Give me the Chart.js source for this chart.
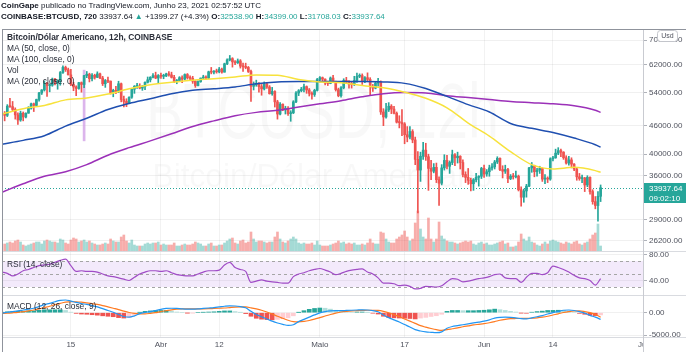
<!DOCTYPE html>
<html lang="pt">
<head>
<meta charset="utf-8">
<title>BTCUSD 12h</title>
<script src="https://cdn.jsdelivr.net/npm/chart.js@4.4.1/dist/chart.umd.min.js"></script>
<style>
  html, body { margin: 0; padding: 0; background: #fff; }
  body { width: 686px; height: 352px; position: relative; overflow: hidden;
         font-family: "Liberation Sans", Arial, sans-serif; color: #131722; }
  #chart { position: absolute; left: 0; top: 0; }
  .txt { position: absolute; white-space: nowrap; font-size: 8.4px; line-height: 10px; }
  .hdr { font-size: 8px; }
  .up { color: #26a69a; }
  .leg { color: #2a2e39; }
</style>
</head>
<body>
<canvas id="chart" width="686" height="352"></canvas>
<div class="txt hdr" style="left:1px;top:1px"><b>CoinGape</b> publicado no TradingView.com, Junho 23, 2021 02:57:52 UTC</div>
<div class="txt hdr" style="left:1px;top:12px"><b>COINBASE:BTCUSD, 720</b> 33937.64 <span class="up">▲</span> +1399.27 (+4.3%) <b>O:</b><span class="up">32538.90</span> <b>H:</b><span class="up">34399.00</span> <b>L:</b><span class="up">31708.03</span> <b>C:</b><span class="up">33937.64</span></div>
<div class="txt leg" style="left:7px;top:32px"><b>Bitcoin/Dólar Americano, 12h, COINBASE</b></div>
<div class="txt leg" style="left:7px;top:43px">MA (50, close, 0)</div>
<div class="txt leg" style="left:7px;top:54px">MA (100, close, 0)</div>
<div class="txt leg" style="left:7px;top:65px">Vol</div>
<div class="txt leg" style="left:7px;top:76px">MA (200, close, 0)</div>
<div class="txt leg" style="left:7px;top:259px">RSI (14, close)</div>
<div class="txt leg" style="left:7px;top:301px">MACD (12, 26, close, 9)</div>
<script>
// x is counted in days from 1 Jun 2021 00:00 UTC
const dateTicks = [-78, -61, -50, -31, -15, 0, 13, 30];
const dateLabels = ['15', 'Abr', '12', 'Maio', '17', 'Jun', '14', 'Jul'];
const priceTicks = [26200, 29000, 36000, 40000, 46000, 54000, 62000, 70000];
const rsiTicks = [40, 80];
const rsiLevels = [70, 50, 30];
const macdTicks = [0, -5000];

const firstCandleDay = -90.5;   // 2 Mar 2021 12:00 UTC, 12h candles
const firstIndicatorDay = -91;  // RSI / MACD read once a day

const opens = [
  48900,48400,50600,50500,49800,48500,47300,48900,48000,48900,
  50100,51200,50800,52300,54000,54800,56600,56000,56100,57800,
  56900,57300,59700,61200,60500,59000,56300,55600,55200,56800,
  56300,58800,59200,57900,58900,58300,59300,58100,56500,57400,
  57200,54100,54700,54300,56500,52300,51800,51300,52900,55000,
  55800,55800,55300,55800,56900,57600,58300,58800,58100,58800,
  58600,58700,59300,59000,58300,57100,57400,58200,57800,59100,
  58200,58000,57200,56000,57100,58100,58400,58100,59900,59800,
  60000,59900,60700,59800,62300,63500,63900,62900,62600,63200,
  61600,61400,61200,60000,55800,56200,56600,55700,55100,56500,
  55600,53800,54400,51700,48700,51100,49700,50100,48800,49000,
  51700,54000,54600,55000,55700,54800,53900,53600,54700,57700,
  58200,57800,56700,56600,58100,57200,54900,53300,55400,57400,
  57000,56400,56300,57400,58600,58800,57300,58200,57700,55800,
  55300,56700,56900,49200,48000,49700,50600,49900,48900,46800,
  46700,46400,44000,43500,44700,42900,39000,37000,39600,40800,
  39500,37300,36800,37500,35300,34700,37400,38800,37700,38400,
  39900,39300,39600,38400,36200,35700,35200,34600,35300,35700,
  35900,37300,36300,36700,37400,37600,38500,39200,37100,36800,
  37100,35500,35900,35800,35900,33600,32400,33400,34200,37400,
  37800,36700,37000,37300,35400,35500,35400,39100,39300,40200,
  40700,40400,39300,38300,38900,38100,37200,35800,35500,35600,
  34400,35700,33300,31700,31100,32538.9
];
const highs = [
  49300,51000,52600,51800,50200,49000,49400,49200,49000,50500,
  51400,51400,52400,54200,54900,57300,56900,56500,58100,58000,
  57600,60000,61700,61600,61000,60600,56900,55900,56900,57000,
  58900,60000,59500,59400,59200,59900,59500,58600,57700,58400,
  57300,55000,55800,57200,56700,53200,52500,53000,55100,56000,
  56600,56500,56000,57000,58400,58500,59400,59800,59100,59500,
  59200,59500,60000,59800,58900,57700,58500,58700,59300,59400,
  58700,58600,57300,57300,58100,58900,58700,60100,61200,60300,
  60700,61200,61000,62500,63800,64900,64200,63300,63800,63600,
  62500,62500,61500,60400,57000,57500,56800,56300,57000,56700,
  56000,55500,54600,52100,51500,51200,50600,50500,49500,52000,
  54400,54900,55500,56400,55900,55200,54300,55000,58000,58500,
  58400,57900,57200,58400,58900,57200,55300,55700,57900,58300,
  57400,57000,58600,59500,59300,59300,58500,59600,58200,56300,
  56900,58000,57300,50000,51300,51500,51000,50600,49200,48300,
  49800,46700,45800,45800,45100,43500,40500,40400,42400,42200,
  40000,38800,38200,38300,35800,38000,39900,39800,38700,40800,
  40100,40400,39700,38900,36700,37300,35600,35500,36400,36000,
  37500,37900,37100,37900,38200,38800,39500,39300,37800,37900,
  37300,36200,36400,36800,36100,34100,33700,34500,37500,38400,
  37900,37300,37700,37400,36200,35800,39300,39600,41000,41300,
  41000,40500,39700,39600,39300,38200,37400,36400,36100,35700,
  36000,35800,33600,32500,33300,34399
];
const lows = [
  47100,48100,50300,49300,47500,46300,47000,47100,47800,48900,
  49900,49300,50500,51900,53600,54500,53100,54300,55800,56200,
  55000,56100,59400,60000,59000,56000,54600,53300,55000,54200,
  55400,58200,57000,57300,57800,58200,57900,56000,55500,56800,
  53700,53000,53800,54100,51700,50400,50500,51300,52600,53900,
  55200,55100,54700,54900,56700,57000,58100,57900,56800,58000,
  57900,58500,58600,58100,56800,56500,57200,56800,57600,57800,
  57400,56600,55500,55900,56900,57900,57700,57900,59300,59300,
  59500,59600,59500,59800,62000,63200,61300,62000,62400,61000,
  60000,60800,59700,51800,54800,55800,54200,53400,54800,55200,
  53700,53400,50400,47500,48500,49500,48700,48400,47000,48800,
  51500,53300,54300,54300,53900,53200,52400,53100,54500,57000,
  57300,56200,56000,56500,57000,54500,53000,52900,55100,56600,
  55300,55300,56000,56900,58200,56300,56800,57200,53400,54400,
  55100,55800,48600,46000,47700,49300,48800,48700,46600,45500,
  43800,42100,42500,43100,42300,38000,30000,35000,39000,38800,
  33500,35300,36500,34800,31100,34400,37000,37200,36400,38000,
  37800,38300,37200,35800,34800,34500,33400,33500,34900,34200,
  35500,35700,35900,35900,37000,37200,38200,36900,35600,36400,
  34800,35300,35400,35600,33400,31000,31600,32400,34100,36600,
  35800,35900,36400,35000,34600,34800,35200,38700,39200,39900,
  39500,39000,38100,37900,37400,36900,35200,35200,34800,33300,
  34100,32900,31300,30600,28800,31708.03
];
const closes = [
  48400,50600,50500,49800,48500,47300,48900,48000,48900,50100,
  51200,50800,52300,54000,54800,56600,56000,56100,57800,56900,
  57300,59700,61200,60500,59000,56300,55600,55200,56800,56300,
  58800,59200,57900,58900,58300,59300,58100,56500,57400,57200,
  54100,54700,54300,56500,52300,51800,51300,52900,55000,55800,
  55800,55300,55800,56900,57600,58300,58800,58100,58800,58600,
  58700,59300,59000,58300,57100,57400,58200,57800,59100,58200,
  58000,57200,56000,57100,58100,58400,58100,59900,59800,60000,
  59900,60700,59800,62300,63500,63900,62900,62600,63200,61600,
  61400,61200,60000,55800,56200,56600,55700,55100,56500,55600,
  53800,54400,51700,48700,51100,49700,50100,48800,49000,51700,
  54000,54600,55000,55700,54800,53900,53600,54700,57700,58200,
  57800,56700,56600,58100,57200,54900,53300,55400,57400,57000,
  56400,56300,57400,58600,58800,57300,58200,57700,55800,55300,
  56700,56900,49200,48000,49700,50600,49900,48900,46800,46700,
  46400,44000,43500,44700,42900,39000,37000,39600,40800,39500,
  37300,36800,37500,35300,34700,37400,38800,37700,38400,39900,
  39300,39600,38400,36200,35700,35200,34600,35300,35700,35900,
  37300,36300,36700,37400,37600,38500,39200,37100,36800,37100,
  35500,35900,35800,35900,33600,32400,33400,34200,37400,37800,
  36700,37000,37300,35400,35500,35400,39100,39300,40200,40700,
  40400,39300,38300,38900,38100,37200,35800,35500,35600,34400,
  35700,33300,31700,31100,32538.9,33937.64
];
// volume per candle, thousands of BTC
const volumeK = [
  10.5,12,13.5,12,15,16.5,13.5,9,7.5,9,
  10.5,12,13.5,13.5,10.5,15,16.5,15,13.5,13.5,
  12,18,16.5,12,10.5,16.5,19.5,18,13.5,15,
  16.5,13.5,15,12,10.5,9,9,10.5,12,10.5,
  18,15,13.5,13.5,21,24,15,12,16.5,9,
  7.5,7.5,7.5,10.5,12,10.5,12,12,13.5,9,
  10.5,9,9,9,12,7.5,7.5,9,10.5,9,
  9,10.5,13.5,12,10.5,7.5,7.5,10.5,12,7.5,
  7.5,9,9,12,15,18,19.5,12,10.5,15,
  16.5,12,13.5,28.5,18,13.5,15,15,13.5,12,
  13.5,13.5,21,28.5,18,13.5,12,15,18,21,
  18,12,10.5,12,10.5,10.5,12,9,15,9,
  7.5,7.5,7.5,9,10.5,12,15,12,13.5,10.5,
  12,10.5,12,9,9,10.5,9,12,18,12,
  10.5,10.5,28.5,27,18,13.5,12,12,18,21,
  24,30,21,15,18,42,60,33,21,18,
  49.5,18,13.5,18,43.5,22.5,18,15,13.5,13.5,
  12,10.5,12,13.5,15,13.5,15,10.5,9,12,
  13.5,10.5,12,9,9,10.5,12,13.5,15,10.5,
  12,6,6,7.5,13.5,25.5,18,15,21,13.5,
  12,9,7.5,10.5,13.5,10.5,15,16.5,15,13.5,
  12,10.5,13.5,12,10.5,13.5,15,10.5,9,12,
  13.5,18,24,27,40.5,7.5
];

// long lavender print on 17 Mar
const spikeDays = [-75.5];
const spikeRanges = [[42700, 60400]];

const maDays = [-91,-87,-83,-79,-75,-71,-67,-63,-59,-55,-51,-47,-43,-39,-35,-31,-27,-23,-19,-15,-11,-7,-3,1,5,9,13,17,21,22];
const ma50 = [48700,50000,50800,52200,52700,53700,55100,56200,56900,57500,57900,58400,59000,58900,57700,57000,56800,56000,55400,54200,52600,50200,46600,43700,40500,38000,37200,37500,36900,36600];
const ma100 = [42000,42800,43800,45900,47700,49800,51300,52500,53800,54700,55100,55600,56500,57000,57100,57100,57100,57100,57000,56600,55200,53100,51000,49200,46500,45400,44500,43300,41900,41400];
const ma200 = [33200,34600,35900,36700,38000,39800,41300,42700,44200,45800,47100,48300,49100,49600,50400,51200,52000,53000,53800,54100,54000,53300,52800,52300,51800,51500,51200,50700,49600,49100];

const rsi = [
  53,51,47,50,55,57,60,63,64,65,
  68,71,73,63,54,55,54,54,53,50,
  47,46,44,42,40,45,50,53,55,55,
  54,55,52,49,48,47,47,50,53,55,
  55,56,64,68,60,57,54,37,39,41,
  39,38,37,36,36,46,50,52,55,57,
  58.5,56,53,49,51,54,56,57,58,53,
  50,44,36,36,35,32,33,31,27,28,
  31,30.5,30,32,38,43,42,38,39,41,
  43,44,46,49,50,44,43,43,37,45,
  51,51,49,52,62,60,57,53,48,44,
  43,40,33,43
];
const macdLine = [
  -100,100,250,400,600,800,1000,1400,1800,2100,
  2450,2750,2850,2600,2300,2050,1850,1600,1300,900,
  500,100,-400,-850,-1000,-700,-200,50,250,500,
  750,950,1000,950,850,800,800,850,950,1050,
  1150,1300,1450,1550,1500,1350,1100,300,-400,-900,
  -1400,-1900,-2300,-2600,-2850,-2700,-2000,-1500,-1000,-500,
  -50,250,400,450,450,500,550,600,650,600,
  450,200,-500,-1100,-1600,-2100,-2650,-3200,-3800,-4100,
  -4300,-4400,-4480,-4300,-3500,-3100,-2900,-2700,-2500,-2300,
  -2100,-1900,-1600,-1200,-1030,-1000,-1050,-1150,-1350,-1400,
  -1150,-900,-650,-300,0,300,550,600,500,250,
  -100,-600,-1000,-1500
];
const signalLine = [
  -150,-100,-20,80,250,400,600,850,1150,1450,
  1800,2100,2350,2480,2450,2350,2200,2050,1850,1600,
  1300,1000,700,350,50,-150,-250,-250,-150,0,
  250,450,650,800,850,850,850,850,870,900,
  950,1000,1050,1150,1250,1300,1300,1100,850,550,
  150,-300,-800,-1250,-1700,-2000,-2050,-1950,-1750,-1450,
  -1100,-750,-400,-100,150,300,400,450,500,550,
  550,500,300,0,-450,-900,-1400,-1900,-2400,-2900,
  -3250,-3550,-3800,-3950,-3800,-3600,-3400,-3150,-2950,-2750,
  -2600,-2450,-2250,-2000,-1700,-1500,-1350,-1300,-1280,-1280,
  -1250,-1150,-1000,-800,-520,-250,50,250,380,400,
  250,0,-350,-1000
];
const macdHist = [
  50,200,270,320,350,400,400,550,650,650,
  650,650,500,120,-150,-300,-350,-450,-550,-700,
  -800,-900,-1100,-1200,-1050,-550,50,300,400,500,
  500,500,350,150,0,-50,-50,0,80,150,
  200,300,400,400,250,50,-200,-800,-1250,-1450,
  -1550,-1600,-1500,-1350,-1150,-700,50,450,750,950,
  1050,1000,800,550,300,200,150,150,150,50,
  -100,-300,-800,-1100,-1150,-1200,-1250,-1300,-1400,-1200,
  -1050,-850,-680,-350,300,500,500,450,450,450,
  500,550,650,800,670,500,300,150,-70,-120,
  100,250,350,500,520,550,500,350,120,-150,
  -350,-600,-650,-500
];

const UP = '#26a69a', DOWN = '#ef5350';
const FONT = '"Liberation Sans", Arial, sans-serif';
const AXIS_TEXT = '#50535e';

const candleDays = opens.map((_, i) => firstCandleDay + i * 0.5);
const indicatorDays = rsi.map((_, i) => firstIndicatorDay + i);
const isUp = closes.map((c, i) => c >= opens[i]);
const candleColors = isUp.map(u => u ? UP : DOWN);
const volColors = isUp.map(u => u ? 'rgba(38,166,154,0.42)' : 'rgba(239,83,80,0.48)');
const histColors = macdHist.map((h, i) => {
  const prev = i ? macdHist[i - 1] : h;
  if (h >= 0) return h >= prev ? '#26a69a' : '#b2dfdb';
  return h < prev ? '#ef5350' : '#ffcdd2';
});

function stretchText(ctx, text, cx, baseline, size, width) {
  ctx.font = size + 'px ' + FONT;
  const w = ctx.measureText(text).width;
  ctx.save();
  ctx.translate(cx, baseline);
  ctx.scale(width / w, 1);
  ctx.textAlign = 'center';
  ctx.textBaseline = 'alphabetic';
  ctx.fillText(text, 0, 0);
  ctx.restore();
}

function hline(ctx, x1, x2, y) {
  ctx.beginPath(); ctx.moveTo(x1, y); ctx.lineTo(x2, y); ctx.stroke();
}
function vline(ctx, x, y1, y2) {
  ctx.beginPath(); ctx.moveTo(x, y1); ctx.lineTo(x, y2); ctx.stroke();
}

// watermark, RSI band, last price line, frame and badges
const decor = {
  id: 'decor',
  beforeDatasetsDraw(chart) {
    const { ctx, chartArea: a, scales } = chart;
    const cx = (a.left + a.right) / 2;
    ctx.save();
    ctx.fillStyle = 'rgba(0,0,0,0.028)';
    stretchText(ctx, 'BTCUSD, 12h', cx, 138, 77, 353);
    stretchText(ctx, 'Bitcoin/Dólar Americano', cx, 187, 33, 340);

    const r = scales.rsi;
    const yTop = r.getPixelForValue(rsiLevels[0]);
    const yBot = r.getPixelForValue(rsiLevels[rsiLevels.length - 1]);
    ctx.fillStyle = 'rgba(155,80,220,0.12)';
    ctx.fillRect(a.left, yTop, a.right - a.left, yBot - yTop);
    ctx.strokeStyle = '#a5a5a5';
    ctx.lineWidth = 1;
    ctx.setLineDash([3, 3]);
    rsiLevels.forEach(v => hline(ctx, a.left, a.right, Math.round(r.getPixelForValue(v)) + 0.5));

    const py = Math.round(scales.price.getPixelForValue(closes[closes.length - 1])) + 0.5;
    ctx.strokeStyle = UP;
    ctx.setLineDash([1, 2]);
    hline(ctx, a.left, a.right, py);
    ctx.restore();
  },
  afterDraw(chart) {
    const { ctx, chartArea: a, scales, width, height } = chart;
    ctx.save();
    ctx.fillStyle = '#fff';
    ctx.fillRect(a.right + 1, a.bottom + 1, width - a.right, height - a.bottom);

    ctx.lineWidth = 1;
    ctx.strokeStyle = '#d9dbe0';
    [scales.price.bottom, scales.rsi.bottom, a.bottom].forEach(y => hline(ctx, a.left, width, Math.round(y) + 0.5));
    ctx.strokeStyle = '#c9cbd1';
    vline(ctx, Math.round(a.right) + 0.5, a.top, height);
    ctx.strokeStyle = '#8f939c';
    hline(ctx, a.left, width, Math.round(a.top) + 0.5);
    vline(ctx, Math.round(a.left) + 0.5, a.top, height);

    // last price badge
    const last = closes[closes.length - 1];
    const py = Math.round(scales.price.getPixelForValue(last));
    ctx.fillStyle = UP;
    ctx.fillRect(a.right + 1, py - 5, width - a.right - 1, 20);
    ctx.fillStyle = '#fff';
    ctx.font = '8px ' + FONT;
    ctx.textAlign = 'left';
    ctx.textBaseline = 'middle';
    ctx.fillText(last.toFixed(2), a.right + 6, py + 0.5);
    ctx.fillText('09:02:10', a.right + 6, py + 10.5);

    // currency box
    ctx.fillStyle = '#fff';
    ctx.strokeStyle = '#c3c5cb';
    ctx.beginPath();
    ctx.roundRect(657.5, 30.5, 20, 11, 3);
    ctx.fill(); ctx.stroke();
    ctx.fillStyle = '#50535e';
    ctx.font = '7px ' + FONT;
    ctx.textAlign = 'center';
    ctx.fillText('Usd', 667.5, 36.5);
    ctx.restore();
  }
};

const barBase = { type: 'bar', grouped: false, borderWidth: 0 };
const lineBase = { type: 'line', pointRadius: 0, fill: false, cubicInterpolationMode: 'monotone' };

const yRight = (extra) => Object.assign({
  position: 'right',
  bounds: 'data',
  afterFit: s => { s.width = 43; },
  grid: { color: 'rgba(0,0,0,0.06)', tickLength: 4, tickColor: '#b0b3ba' },
  border: { display: false }
}, extra);

Chart.defaults.font.family = FONT;
Chart.defaults.font.size = 8;

new Chart(document.getElementById('chart'), {
  type: 'line',
  plugins: [decor],
  data: {
    datasets: [
      Object.assign({}, lineBase, { label: 'MA 50', yAxisID: 'price', borderColor: '#f7e23c', borderWidth: 1.5,
        data: maDays.map((d, i) => ({ x: d, y: ma50[i] })) }),
      Object.assign({}, lineBase, { label: 'MA 100', yAxisID: 'price', borderColor: '#1f4fb0', borderWidth: 1.5,
        data: maDays.map((d, i) => ({ x: d, y: ma100[i] })) }),
      Object.assign({}, lineBase, { label: 'MA 200', yAxisID: 'price', borderColor: '#9b30b8', borderWidth: 1.5,
        data: maDays.map((d, i) => ({ x: d, y: ma200[i] })) }),
      Object.assign({}, barBase, { label: 'body', yAxisID: 'price', barThickness: 2, minBarLength: 1,
        backgroundColor: candleColors,
        data: candleDays.map((d, i) => ({ x: d, y: [opens[i], closes[i]] })) }),
      Object.assign({}, barBase, { label: 'wick', yAxisID: 'price', barThickness: 1,
        backgroundColor: candleColors,
        data: candleDays.map((d, i) => ({ x: d, y: [lows[i], highs[i]] })) }),
      Object.assign({}, barBase, { label: 'spike', yAxisID: 'price', barThickness: 2,
        backgroundColor: 'rgba(205,150,228,0.7)',
        data: spikeDays.map((d, i) => ({ x: d, y: spikeRanges[i] })) }),
      Object.assign({}, barBase, { label: 'Vol', yAxisID: 'vol', barThickness: 2,
        backgroundColor: volColors,
        data: candleDays.map((d, i) => ({ x: d, y: volumeK[i] })) }),
      Object.assign({}, lineBase, { label: 'RSI', yAxisID: 'rsi', borderColor: '#a04cc6', borderWidth: 1.2,
        data: indicatorDays.map((d, i) => ({ x: d, y: rsi[i] })) }),
      Object.assign({}, lineBase, { label: 'MACD', yAxisID: 'macd', borderColor: '#2196f3', borderWidth: 1.2,
        data: indicatorDays.map((d, i) => ({ x: d, y: macdLine[i] })) }),
      Object.assign({}, lineBase, { label: 'Signal', yAxisID: 'macd', borderColor: '#ff7a21', borderWidth: 1.2,
        data: indicatorDays.map((d, i) => ({ x: d, y: signalLine[i] })) }),
      Object.assign({}, barBase, { label: 'Hist', yAxisID: 'macd', barThickness: 4,
        backgroundColor: histColors,
        data: indicatorDays.map((d, i) => ({ x: d, y: macdHist[i] })) })
    ]
  },
  options: {
    responsive: false,
    animation: false,
    events: [],
    layout: { padding: { top: 29, left: 2, right: 0, bottom: 0 } },
    plugins: { legend: { display: false }, tooltip: { enabled: false } },
    scales: {
      x: {
        type: 'linear', min: -91, max: 30, offset: false, bounds: 'data',
        afterBuildTicks: s => { s.ticks = dateTicks.map(v => ({ value: v })); },
        afterFit: s => { s.height = 15; },
        ticks: { autoSkip: false, maxRotation: 0, padding: 3, color: AXIS_TEXT,
          callback: v => dateLabels[dateTicks.indexOf(v)] },
        grid: { color: 'rgba(0,0,0,0.05)', drawTicks: false, offset: false },
        border: { display: false }
      },
      price: yRight({
        type: 'logarithmic', stack: 'panes', stackWeight: 222, min: 24885, max: 73890,
        afterBuildTicks: s => { s.ticks = priceTicks.map(v => ({ value: v })); },
        ticks: { autoSkip: false, padding: 2, color: AXIS_TEXT, callback: v => Number(v).toFixed(2) }
      }),
      rsi: yRight({
        type: 'linear', stack: 'panes', stackWeight: 44, min: 17.7, max: 85.4,
        afterBuildTicks: s => { s.ticks = rsiTicks.map(v => ({ value: v })); },
        ticks: { autoSkip: false, padding: 2, color: AXIS_TEXT, callback: v => Number(v).toFixed(2) }
      }),
      macd: yRight({
        type: 'linear', stack: 'panes', stackWeight: 42, min: -5448, max: 3968,
        afterBuildTicks: s => { s.ticks = macdTicks.map(v => ({ value: v })); },
        ticks: { autoSkip: false, padding: 2, color: AXIS_TEXT, callback: v => Number(v).toFixed(2) }
      }),
      vol: { type: 'linear', position: 'right', display: false, min: -129, max: 333 }
    }
  }
});
</script>
</body>
</html>
